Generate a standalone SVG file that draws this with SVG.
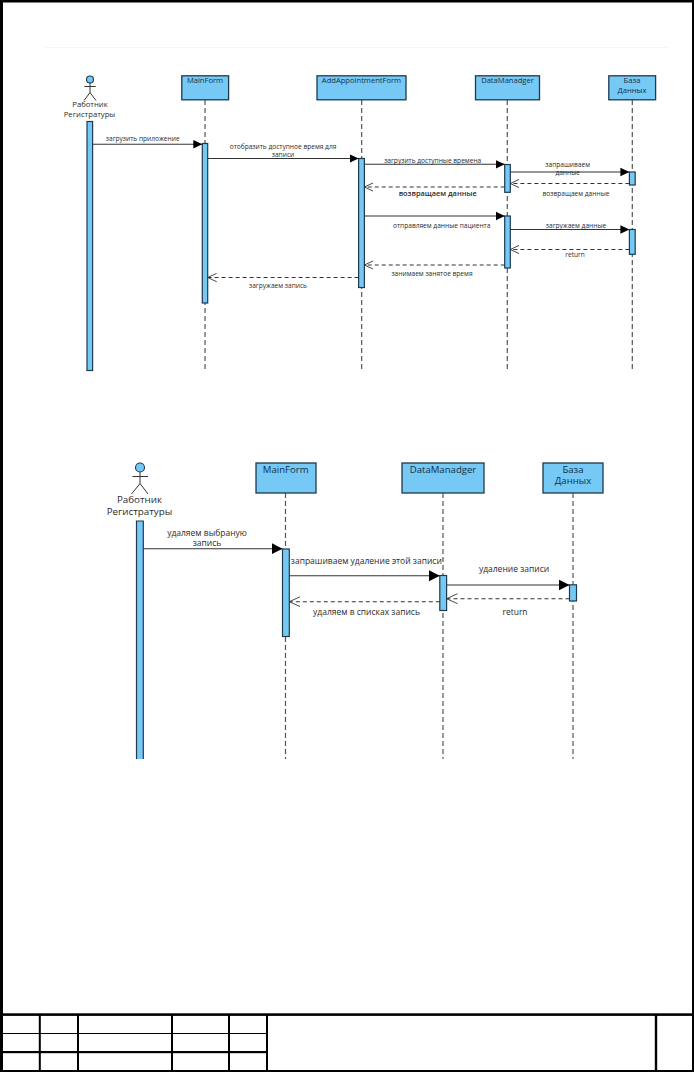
<svg xmlns="http://www.w3.org/2000/svg" width="694" height="1072" viewBox="0 0 694 1072">
<style>
text{font-family:"Open Sans","Noto Sans","DejaVu Sans",sans-serif;fill:#2b2b2b;text-anchor:middle}
.t1{font-size:6.6px}
.t2{font-size:7.7px}
.t1n{font-size:7.6px;fill:#123047}
.t2n{font-size:9.6px;fill:#123047}
.t2l{font-size:8.5px}
.t2a{font-size:9.8px}
.box{fill:#76c9f5;stroke:#1d3a4f;stroke-width:1.3}
.bar{fill:#76c9f5;stroke:#1d3a4f;stroke-width:1.2}
.life{fill:none;stroke:#555;stroke-width:1.2;stroke-dasharray:5 3}
.msg{fill:none;stroke:#333;stroke-width:1.1}
.ret{fill:none;stroke:#333;stroke-width:1.1;stroke-dasharray:4 3}
.actor{fill:none;stroke:#333;stroke-width:1}
.head{fill:#76c9f5;stroke:#1d3a4f;stroke-width:1.1}
.k{fill:#000;stroke:none}
</style>
<defs>
<marker id="a1" markerUnits="userSpaceOnUse" markerWidth="10" markerHeight="10" refX="9" refY="5" orient="auto"><path d="M0 .7L9 5L0 9.3Z" fill="#000"/></marker>
<marker id="o1" markerUnits="userSpaceOnUse" markerWidth="10" markerHeight="10" refX="9" refY="5" orient="auto"><path d="M0 .8L9 5L0 9.2" fill="none" stroke="#333" stroke-width=".9"/></marker>
<marker id="a2" markerUnits="userSpaceOnUse" markerWidth="12" markerHeight="12" refX="11" refY="6" orient="auto"><path d="M0 .4L11 6L0 11.6Z" fill="#000"/></marker>
<marker id="o2" markerUnits="userSpaceOnUse" markerWidth="12" markerHeight="12" refX="11" refY="6" orient="auto"><path d="M0 1L11 6L0 11" fill="none" stroke="#333" stroke-width=".9"/></marker>
</defs>
<rect width="694" height="1072" fill="#fff"/>
<g id="frame">
<rect class="k" x="0" y="0" width="694" height="2.5"/>
<rect class="k" x="0" y="0" width="3" height="1072"/>
<rect class="k" x="692" y="0" width="2" height="1072"/>
<rect class="k" x="0" y="1070" width="694" height="2"/>
<rect x="45" y="47" width="623" height="1" fill="#f6f6f6"/>
<rect class="k" x="0" y="1013.3" width="694" height="2.6"/>
<rect class="k" x="0" y="1033" width="267" height="1"/>
<rect class="k" x="0" y="1051" width="267" height="2.2"/>
<rect class="k" x="38.8" y="1015" width="2" height="56"/>
<rect class="k" x="77" y="1015" width="2" height="56"/>
<rect class="k" x="171" y="1015" width="2" height="56"/>
<rect class="k" x="228" y="1015" width="2" height="56"/>
<rect class="k" x="266" y="1015" width="2" height="56"/>
<rect class="k" x="654.8" y="1015" width="2.4" height="56"/>
</g>
<g id="top-lifelines">
<line class="life" x1="205" y1="100" x2="205" y2="371"/>
<line class="life" x1="361.7" y1="100" x2="361.7" y2="371"/>
<line class="life" x1="507.3" y1="100" x2="507.3" y2="371"/>
<line class="life" x1="632.3" y1="100" x2="632.3" y2="371"/>
</g>
<g id="top-actor">
<circle class="head" cx="90" cy="79.5" r="3.5"/>
<path class="actor" d="M90 83V92.5M84.5 86.5H95.7M84 100.5L90 92.5L96 100.5"/>
<text class="t2" x="90" y="107">Работник</text>
<text class="t2" x="89.5" y="117">Регистратуры</text>
<rect class="bar" x="87" y="121.5" width="5.6" height="249"/>
</g>
<g id="top-mainform">
<rect class="box" x="181.8" y="75.8" width="46.8" height="24"/>
<text class="t1n" x="205" y="82.5">MainForm</text>
<rect class="bar" x="202.3" y="143.5" width="5.4" height="159.5"/>
</g>
<g id="top-addappointmentform">
<rect class="box" x="317" y="75.8" width="89" height="24"/>
<text class="t1n" x="361.5" y="82.5">AddAppointmentForm</text>
<rect class="bar" x="358.6" y="158.5" width="5.8" height="129"/>
</g>
<g id="top-datamanadger">
<rect class="box" x="475.5" y="75.8" width="64" height="24"/>
<text class="t1n" x="507.5" y="82.5">DataManadger</text>
<rect class="bar" x="504.7" y="164.5" width="5.6" height="27.8"/>
<rect class="bar" x="504.7" y="216" width="5.6" height="52"/>
</g>
<g id="top-database">
<rect class="box" x="608.8" y="75.8" width="46.8" height="24"/>
<text class="t1n" x="632" y="82.5">База</text>
<text class="t1n" x="632" y="92.5">Данных</text>
<rect class="bar" x="629.4" y="172" width="5.8" height="13"/>
<rect class="bar" x="629.4" y="229.5" width="5.8" height="24.8"/>
</g>
<g id="top-connectors">
<line class="msg" marker-end="url(#a1)" x1="92.6" y1="144.3" x2="202.3" y2="144.3"/>
<line class="msg" marker-end="url(#a1)" x1="207.7" y1="158.5" x2="358.6" y2="158.5"/>
<line class="msg" marker-end="url(#a1)" x1="364.4" y1="164.3" x2="504.7" y2="164.3"/>
<line class="msg" marker-end="url(#a1)" x1="510.3" y1="172" x2="629.4" y2="172"/>
<line class="ret" marker-end="url(#o1)" x1="629.4" y1="183.5" x2="510.3" y2="183.5"/>
<line class="ret" marker-end="url(#o1)" x1="504.7" y1="187" x2="364.4" y2="187"/>
<line class="msg" marker-end="url(#a1)" x1="364.4" y1="216" x2="504.7" y2="216"/>
<line class="msg" marker-end="url(#a1)" x1="510.3" y1="229.5" x2="629.4" y2="229.5"/>
<line class="ret" marker-end="url(#o1)" x1="629.4" y1="249.5" x2="510.3" y2="249.5"/>
<line class="ret" marker-end="url(#o1)" x1="504.7" y1="265" x2="364.4" y2="265"/>
<line class="ret" marker-end="url(#o1)" x1="358.6" y1="277.5" x2="207.7" y2="277.5"/>
<text class="t1" x="142.7" y="141.4">загрузить приложение</text>
<text class="t1" x="283" y="149.4">отобразить доступное время для</text>
<text class="t1" x="283" y="157.2">записи</text>
<text class="t1" x="432.7" y="162.8">загрузить доступные времена</text>
<text class="t1" x="567.7" y="166.8">запрашиваем</text>
<text class="t1" x="567.7" y="174.8">данные</text>
<text class="t1" x="437.7" y="196" style="font-size:7.4px;font-weight:600">возвращаем данные</text>
<text class="t1" x="576" y="196.3">возвращаем данные</text>
<text class="t1" x="441.7" y="227.8">отправляем данные пациента</text>
<text class="t1" x="576" y="228.3">загружаем данные</text>
<text class="t1" x="575" y="257.3">return</text>
<text class="t1" x="432" y="276.3">занимаем занятое время</text>
<text class="t1" x="278" y="287.8">загружаем запись</text>
</g>
<g id="bottom-lifelines">
<line class="life" x1="285.5" y1="493" x2="285.5" y2="759"/>
<line class="life" x1="443" y1="493" x2="443" y2="759"/>
<line class="life" x1="573" y1="493" x2="573" y2="759"/>
</g>
<g id="bottom-actor">
<circle class="head" cx="140" cy="467.5" r="4.5"/>
<path class="actor" d="M140 472V483.5M132.5 476.5H148M131.5 494L140 483.5L148 494"/>
<text class="t2a" x="139.5" y="502.5">Работник</text>
<text class="t2a" x="139.5" y="515">Регистратуры</text>
<path class="bar" d="M136.5 759V521H143.3V759"/>
</g>
<g id="bottom-mainform">
<rect class="box" x="256" y="463" width="60" height="30"/>
<text class="t2n" x="285.7" y="473">MainForm</text>
<rect class="bar" x="282.5" y="549" width="6.8" height="87.5"/>
</g>
<g id="bottom-datamanadger">
<rect class="box" x="402" y="463" width="82" height="30"/>
<text class="t2n" x="443" y="473">DataManadger</text>
<rect class="bar" x="439.8" y="575.5" width="6.8" height="35"/>
</g>
<g id="bottom-database">
<rect class="box" x="543" y="463" width="60" height="30"/>
<text class="t2n" x="573" y="472.6">База</text>
<text class="t2n" x="573" y="484.4">Данных</text>
<rect class="bar" x="569.5" y="584.8" width="7" height="16.2"/>
</g>
<g id="bottom-connectors">
<line class="msg" marker-end="url(#a2)" x1="143.3" y1="548.7" x2="282.5" y2="548.7"/>
<line class="msg" marker-end="url(#a2)" x1="289.3" y1="575.7" x2="439.8" y2="575.7"/>
<line class="msg" marker-end="url(#a2)" x1="446.6" y1="585" x2="569.5" y2="585"/>
<line class="ret" marker-end="url(#o2)" x1="569.5" y1="598.7" x2="446.6" y2="598.7"/>
<line class="ret" marker-end="url(#o2)" x1="439.8" y1="601.7" x2="289.3" y2="601.7"/>
<text class="t2l" x="207" y="536">удаляем выбраную</text>
<text class="t2l" x="207" y="546.4">запись</text>
<text class="t2l" x="366.3" y="564">запрашиваем удаление этой записи</text>
<text class="t2l" x="514" y="572">удаление записи</text>
<text class="t2l" x="366.5" y="615">удаляем в списках запись</text>
<text class="t2l" x="515" y="615">return</text>
</g>
</svg>
